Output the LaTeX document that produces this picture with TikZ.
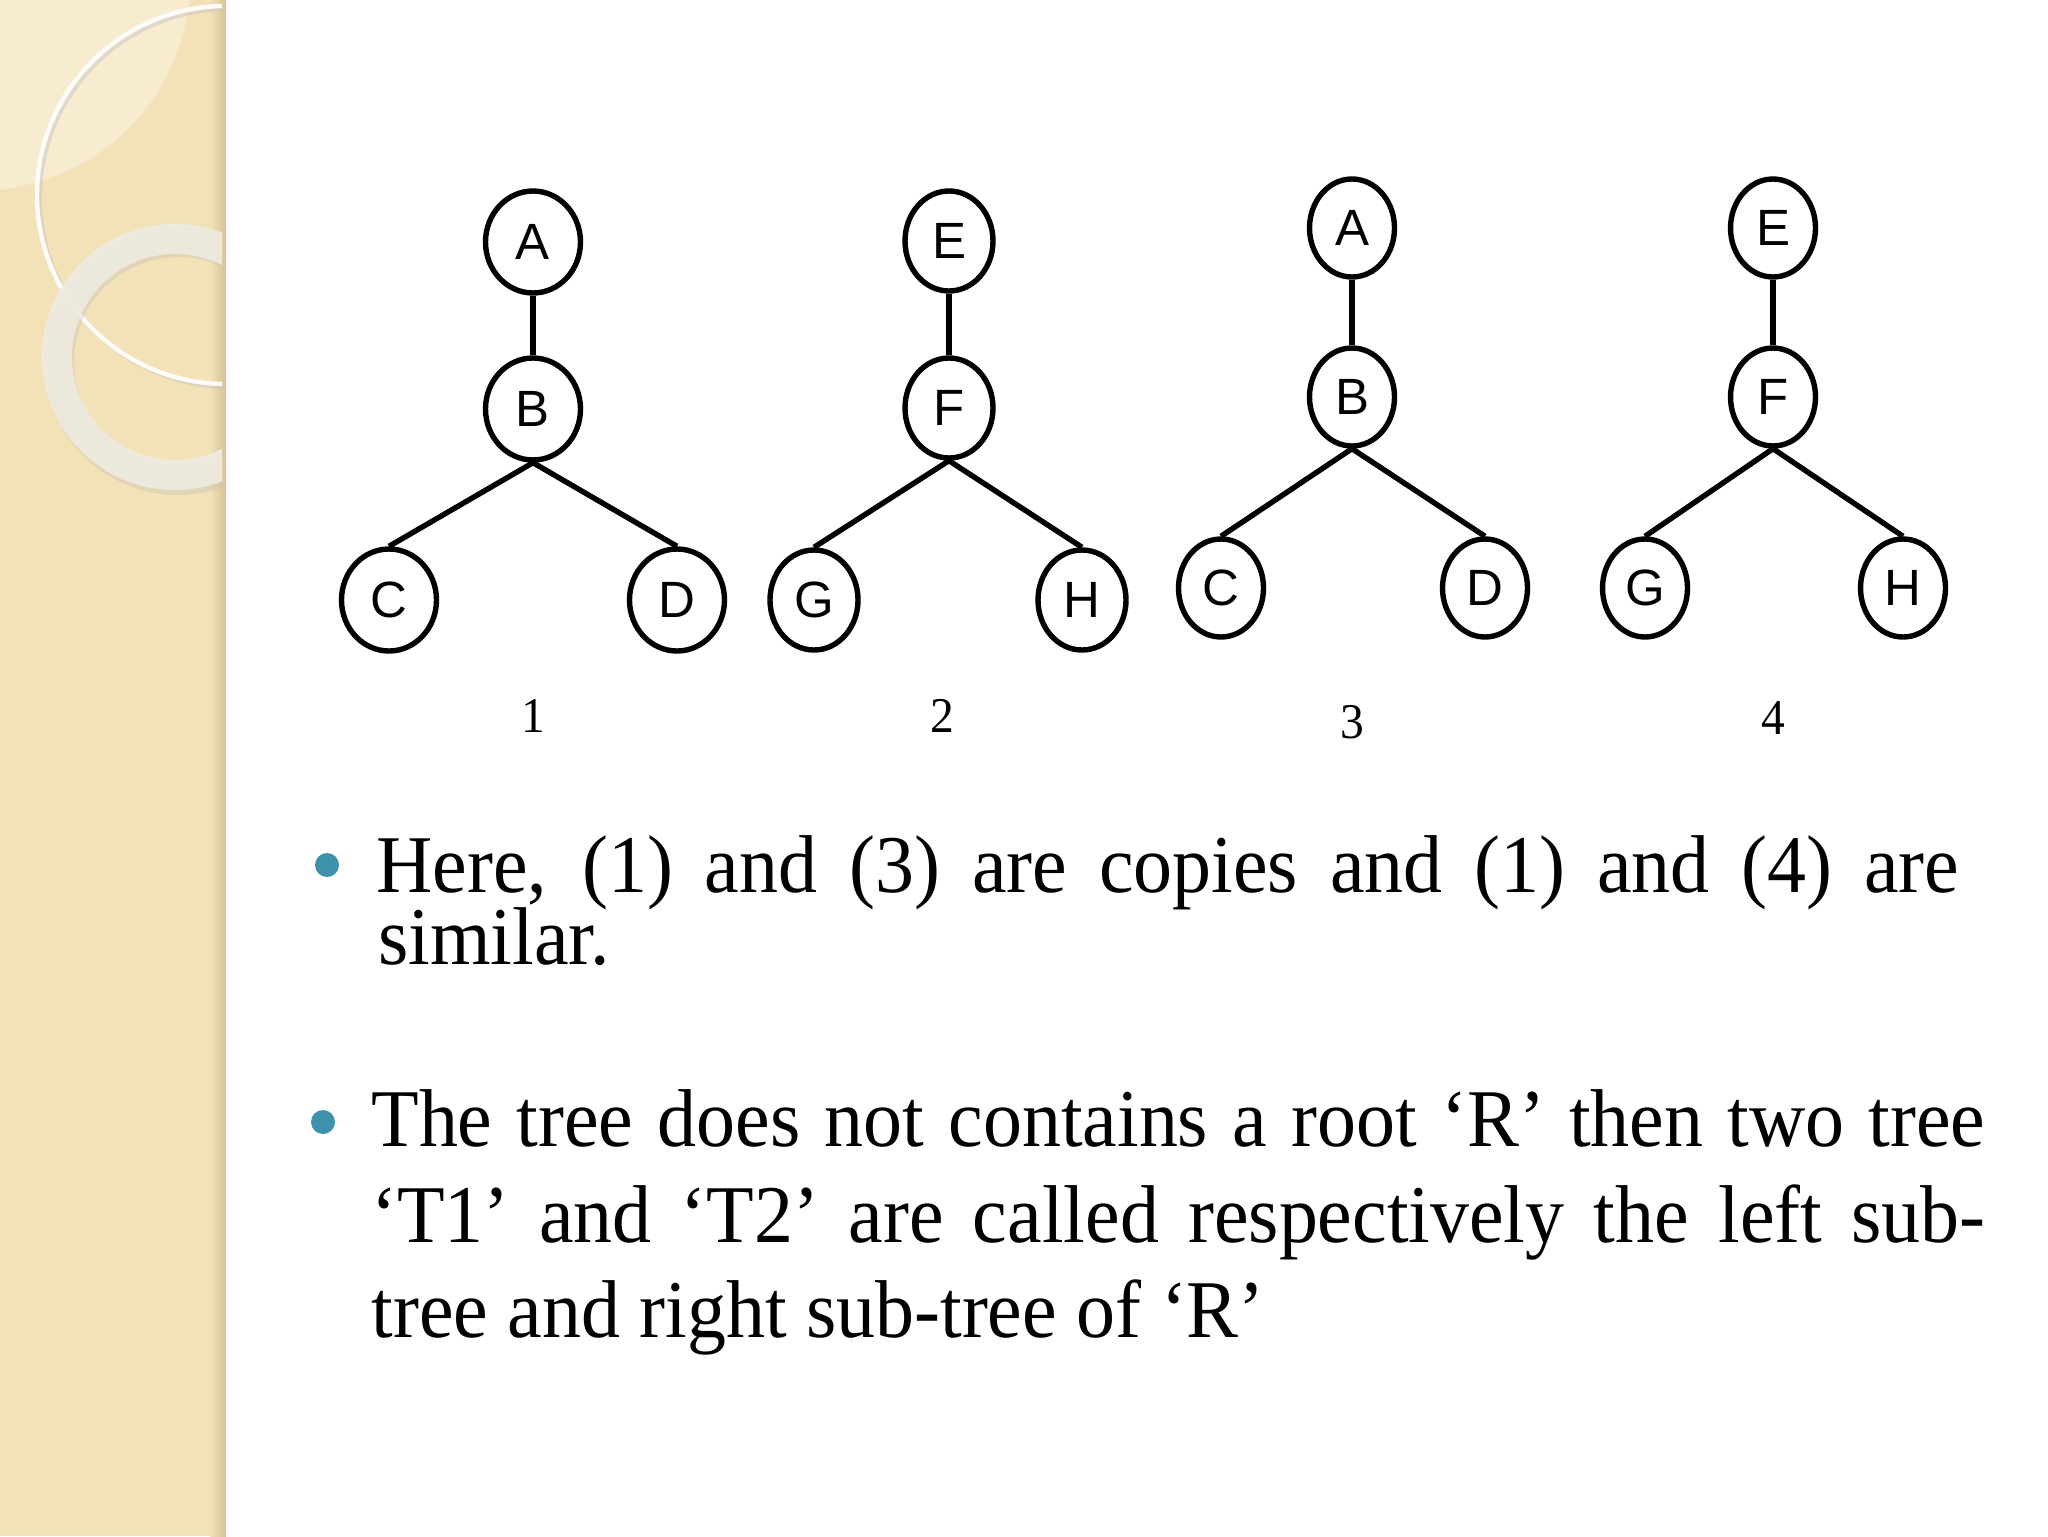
\documentclass[tikz,border=0pt]{standalone}
\usepackage{fontspec}
\setmainfont{Liberation Serif}
\newfontfamily\slidefont[FakeStretch=0.95]{Liberation Serif}
\newfontfamily\nodefont{Liberation Sans}
\usetikzlibrary{shapes.geometric}
\definecolor{stripbg}{RGB}{243,225,184}
\definecolor{stripedge}{RGB}{212,194,150}
\definecolor{ringcol}{RGB}{238,235,224}
\definecolor{bulletcol}{RGB}{62,145,170}

\begin{document}
\begin{tikzpicture}[x=0.5pt, y=-0.5pt,
  vtx/.style={ellipse, draw, line width=2.7pt, inner sep=0pt, minimum width=44pt, minimum height=50pt,
    font=\nodefont\fontsize{25.5}{30}\selectfont},
  wide/.style={minimum width=47.5pt, minimum height=51pt},
  slim/.style={minimum width=42.5pt, minimum height=49pt},
  link/.style={line width=2.7pt},
  num/.style={inner sep=0pt, font=\slidefont\fontsize{25}{30}\selectfont},
  para/.style={anchor=base west, inner sep=0pt, font=\slidefont\fontsize{41}{47}\selectfont},
  bullet/.style={circle, fill=bulletcol, inner sep=0pt, minimum size=12pt}]

\useasboundingbox (0,0) rectangle (2048,1536);
\fill[white] (0,0) rectangle (2048,1536);

% Side strip
\fill[stripbg] (0,0) rectangle (226,1536);
\shade[left color=stripbg, right color=stripedge] (210,0) rectangle (226,1536);
\begin{scope}
  \clip (0,0) rectangle (222,1536);
  \fill[white, opacity=0.35] (-20,-20) circle (210);
  \draw[black!25, opacity=0.4, line width=2pt] (229,198) circle (189);
  \draw[white!90!stripbg, line width=2.2pt] (226,195) circle (189);
  \fill[black!30, opacity=0.25, even odd rule] (178,361) circle (134) circle (104);
  \fill[ringcol, opacity=0.9, even odd rule] (175,357) circle (133) circle (103);
\end{scope}

% Tree 1
\node[vtx, wide] (a1) at (533,242) {A};
\node[vtx, wide] (b1) at (533,409) {B};
\node[vtx, wide] (c1) at (389,600) {C};
\node[vtx, wide] (d1) at (677,600) {D};
\draw[link] (a1.south) -- (b1.north);
\draw[link] (b1.south) -- (c1.north);
\draw[link] (b1.south) -- (d1.north);
\node[num] (n1) at (533,716) {1};

% Tree 2
\node[vtx] (e2) at (949,241) {E};
\node[vtx] (f2) at (949,408) {F};
\node[vtx] (g2) at (814,600) {G};
\node[vtx] (h2) at (1082,600) {H};
\draw[link] (e2.south) -- (f2.north);
\draw[link] (f2.south) -- (g2.north);
\draw[link] (f2.south) -- (h2.north);
\node[num] (n2) at (942,716) {2};

% Tree 3
\node[vtx, slim] (a3) at (1352,228) {A};
\node[vtx, slim] (b3) at (1352,397) {B};
\node[vtx, slim] (c3) at (1221,588) {C};
\node[vtx, slim] (d3) at (1485,588) {D};
\draw[link] (a3.south) -- (b3.north);
\draw[link] (b3.south) -- (c3.north);
\draw[link] (b3.south) -- (d3.north);
\node[num] (n3) at (1352,722) {3};

% Tree 4
\node[vtx, slim] (e4) at (1773,228) {E};
\node[vtx, slim] (f4) at (1773,397) {F};
\node[vtx, slim] (g4) at (1645,588) {G};
\node[vtx, slim] (h4) at (1903,588) {H};
\draw[link] (e4.south) -- (f4.north);
\draw[link] (f4.south) -- (g4.north);
\draw[link] (f4.south) -- (h4.north);
\node[num] (n4) at (1773,718) {4};

% Bullets
\node[bullet] (bul1) at (327,865) {};
\node[para] (b1l1) at (376,892) {\makebox[791.5pt][s]{Here, (1) and (3) are copies and (1) and (4) are}};
\node[para] (b1l2) at (378,964) {similar.};

\node[bullet] (bul2) at (323,1122) {};
\node[para] (b2l1) at (371,1146) {\makebox[807pt][s]{The tree does not contains a root ‘R’ then two tree}};
\node[para] (b2l2) at (371,1242) {\makebox[807pt][s]{‘T1’ and ‘T2’ are called respectively the left sub-}};
\node[para] (b2l3) at (371,1337) {tree and right sub-tree of ‘R’};

\end{tikzpicture}
\end{document}
